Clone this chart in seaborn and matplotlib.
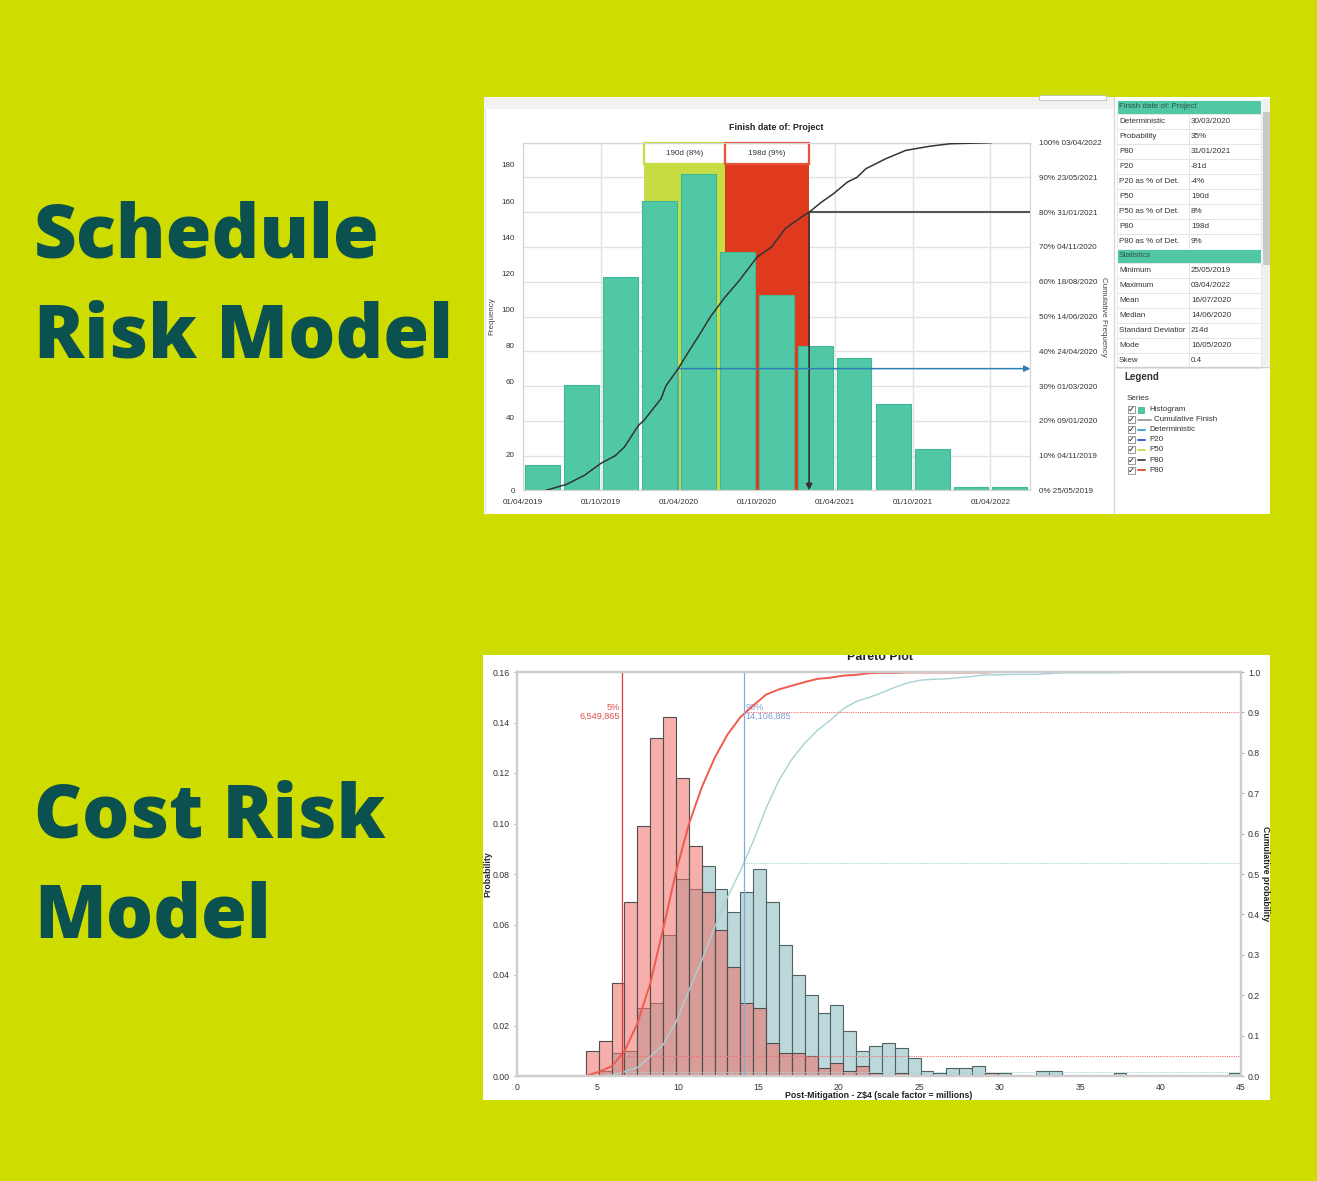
import numpy as np
import pandas as pd
import matplotlib
matplotlib.use("Agg")
import matplotlib.pyplot as plt
import matplotlib.dates as mdates
from matplotlib.patches import Rectangle
from matplotlib import font_manager
import seaborn as sns

sns.set_style("white")

W, H = 1317, 1181
BG = "#CFDC00"
DARK = "#0B5150"
TEAL = "#50C8A6"

installed = {f.name for f in font_manager.fontManager.ttflist}
NARROW = ["Liberation Sans Narrow", "Liberation Sans"] if "Liberation Sans Narrow" in installed else ["Liberation Sans"]
SANS = ["Liberation Sans", "DejaVu Sans"]

# -----------------------------------------------------------------------------
# schedule risk data
quarter_starts = pd.date_range("2019-04-01", periods=14, freq="QS")
freq_counts = [14, 58, 118, 160, 175, 132, 108, 80, 73, 48, 23, 2, 2]

cum_dates = ["2019-05-25", "2019-07-12", "2019-08-23", "2019-09-30", "2019-11-04",
             "2019-11-25", "2019-12-28", "2020-01-09", "2020-02-19", "2020-03-01",
             "2020-03-30", "2020-04-24", "2020-05-18", "2020-06-14", "2020-07-18",
             "2020-08-18", "2020-10-01", "2020-11-04", "2020-12-06", "2021-01-13",
             "2021-01-31", "2021-03-01", "2021-03-29", "2021-05-01", "2021-05-23",
             "2021-06-13", "2021-07-30", "2021-09-15", "2021-11-11", "2021-12-28",
             "2022-04-03"]
cum_prob = [0.0, 0.017, 0.043, 0.077, 0.10, 0.125, 0.187, 0.20, 0.264, 0.30,
            0.35, 0.40, 0.446, 0.50, 0.556, 0.60, 0.671, 0.70, 0.753, 0.786,
            0.80, 0.829, 0.853, 0.887, 0.90, 0.925, 0.954, 0.978, 0.99, 0.997,
            1.0]

right_pct = [0, 10, 20, 30, 40, 50, 60, 70, 80, 90, 100]
right_dates = ["25/05/2019", "04/11/2019", "09/01/2020", "01/03/2020", "24/04/2020",
               "14/06/2020", "18/08/2020", "04/11/2020", "31/01/2021", "23/05/2021",
               "03/04/2022"]
left_ticks = [0, 20, 40, 60, 80, 100, 120, 140, 160, 180]
x_tick_dates = pd.date_range("2019-04-01", "2022-04-01", freq="6MS")

p50_band = ("2020-01-09", "2020-07-18")
p80_band = ("2020-07-18", "2021-01-31")
p50_label = "190d (8%)"
p80_label = "198d (9%)"
det_date, det_prob = "2020-03-30", 0.35
p80_date, p80_prob = "2021-01-31", 0.80

table_rows = [
    ("Finish date of: Project", None),
    ("Deterministic", "30/03/2020"),
    ("Probability", "35%"),
    ("P80", "31/01/2021"),
    ("P20", "-81d"),
    ("P20 as % of Det.", "-4%"),
    ("P50", "190d"),
    ("P50 as % of Det.", "8%"),
    ("P80", "198d"),
    ("P80 as % of Det.", "9%"),
    ("Statistics", None),
    ("Minimum", "25/05/2019"),
    ("Maximum", "03/04/2022"),
    ("Mean", "16/07/2020"),
    ("Median", "14/06/2020"),
    ("Standard Deviatior", "214d"),
    ("Mode", "16/05/2020"),
    ("Skew", "0.4"),
]
legend_items = [
    ("Histogram", TEAL, "box"),
    ("Cumulative Finish", "#9a9a9a", "long"),
    ("Deterministic", "#3A9AD9", "line"),
    ("P20", "#2A55C8", "line"),
    ("P50", "#C8DC40", "line"),
    ("P80", "#444444", "line"),
    ("P80", "#E2462A", "line"),
]

# -----------------------------------------------------------------------------
# cost risk data (probability per bin)
bin_start, bin_width = 4.28, 0.8
pre_mitigation = [0, 0.002, 0.009, 0.010, 0.027, 0.029, 0.056, 0.078, 0.074, 0.083,
                  0.074, 0.065, 0.073, 0.082, 0.069, 0.052, 0.040, 0.032, 0.025, 0.028,
                  0.018, 0.010, 0.012, 0.013, 0.011, 0.007, 0.002, 0.001, 0.003, 0.003,
                  0.004, 0, 0.001, 0, 0, 0.002, 0.002, 0, 0, 0,
                  0, 0.001, 0, 0, 0, 0, 0, 0, 0, 0,
                  0.001]
post_mitigation = [0.010, 0.014, 0.037, 0.069, 0.099, 0.134, 0.142, 0.118, 0.091, 0.073,
                   0.058, 0.043, 0.029, 0.027, 0.013, 0.009, 0.009, 0.008, 0.003, 0.005,
                   0.002, 0.004, 0.001, 0, 0.001, 0, 0, 0, 0, 0,
                   0, 0.001, 0, 0, 0, 0, 0, 0, 0, 0,
                   0, 0, 0, 0, 0, 0, 0, 0, 0, 0,
                   0]
p5_value, p5_text = 6.549865, "5%\n6,549,865"
p90_value, p90_text = 14.106885, "90%\n14,106,885"


def px_rect(x0, y0, x1, y1):
    return [x0 / W, 1 - y1 / H, (x1 - x0) / W, (y1 - y0) / H]


fig = plt.figure(figsize=(W / 100, H / 100), dpi=100)
fig.patch.set_facecolor(BG)

# -----------------------------------------------------------------------------
# background layer: headings, panels, table, legend
bg = fig.add_axes([0, 0, 1, 1])
bg.set_xlim(0, W)
bg.set_ylim(H, 0)
bg.axis("off")

head_kw = dict(fontsize=53.5, fontweight=800, family=["Open Sans", "DejaVu Sans"],
               color=DARK, ha="left", va="baseline")
bg.text(34, 257, "Schedule", **head_kw)
bg.text(34, 358, "Risk Model", **head_kw)
bg.text(34, 837, "Cost Risk", **head_kw)
bg.text(34, 938, "Model", **head_kw)

# top panel
bg.add_patch(Rectangle((484, 97), 786, 417, fc="white", ec="none"))
bg.add_patch(Rectangle((484, 97), 630, 12, fc="#f2f2f2", ec="none"))
bg.add_patch(Rectangle((1039, 95), 67, 5, fc="white", ec="#bdbdbd", lw=0.6))
bg.plot([1114, 1114], [97, 514], color="#d8d8d8", lw=1)
bg.plot([485, 485], [109, 514], color="#e2e2e2", lw=1)

row_h = 14.9
ty0 = 99.5
c0, c1, c2 = 1117, 1189, 1261
for i, (name, val) in enumerate(table_rows):
    y = ty0 + i * row_h
    if val is None:
        bg.add_patch(Rectangle((c0, y), c2 - c0, row_h, fc=TEAL, ec="white", lw=0.6))
        bg.text(c0 + 2, y + row_h / 2, name, fontsize=5.8, family=SANS, color="#2f4f4a",
                va="center", ha="left")
    else:
        bg.add_patch(Rectangle((c0, y), c1 - c0, row_h, fc="white", ec="#e3e3e3", lw=0.6))
        bg.add_patch(Rectangle((c1, y), c2 - c1, row_h, fc="white", ec="#e3e3e3", lw=0.6))
        bg.text(c0 + 2, y + row_h / 2, name, fontsize=5.8, family=SANS, color="#333333",
                va="center", ha="left", clip_on=True)
        bg.text(c1 + 2, y + row_h / 2, val, fontsize=5.8, family=SANS, color="#333333",
                va="center", ha="left")
bg.add_patch(Rectangle((1262, 99), 8, 267, fc="#f0f0f0", ec="none"))
bg.add_patch(Rectangle((1262.5, 112), 7, 153, fc="#c9c9c9", ec="none"))
bg.plot([1116, 1270], [367, 367], color="#cfcfcf", lw=1)
bg.text(1124, 377, "Legend", fontsize=7, fontweight="bold", family=SANS, color="#333333",
        va="center", ha="left")
bg.text(1127, 399, "Series", fontsize=5.8, family=SANS, color="#333333",
        va="center", ha="left")
for i, (name, col, kind) in enumerate(legend_items):
    y = 409.5 + i * 10.1
    bg.add_patch(Rectangle((1128, y - 3.5), 7, 7, fc="white", ec="#888888", lw=0.6))
    bg.text(1131.5, y, "\u2713", fontsize=6, family=["DejaVu Sans"], color="#111111",
            va="center", ha="center")
    if kind == "box":
        bg.add_patch(Rectangle((1138, y - 3), 6, 6, fc=col, ec="#3aa88a", lw=0.5))
        tx = 1149
    elif kind == "long":
        bg.plot([1138, 1151], [y, y], color=col, lw=1.3)
        tx = 1154
    else:
        bg.plot([1138, 1145], [y, y], color=col, lw=1.3)
        tx = 1149
    bg.text(tx, y, name, fontsize=5.8, family=SANS, color="#333333", va="center", ha="left")

# bottom panel, its title is cut by the top edge of the screenshot
panel = Rectangle((483, 655), 787, 445, fc="white", ec="none")
bg.add_patch(panel)
t = bg.text(880, 660, "Pareto Plot", fontsize=9, fontweight="bold", family=NARROW,
            color="#222222", ha="center", va="baseline", clip_on=True)
t.set_clip_path(panel)

# -----------------------------------------------------------------------------
# schedule histogram
ax1 = fig.add_axes(px_rect(523, 142.7, 1030.4, 490.3))
ymax1 = 192.3
q_num = mdates.date2num(quarter_starts)
centers = (q_num[:-1] + q_num[1:]) / 2
widths = (q_num[1:] - q_num[:-1]) * 0.89
x0, x1 = mdates.date2num(pd.Timestamp("2019-04-01")), mdates.date2num(pd.Timestamp("2022-07-04"))

for band, col in [(p50_band, "#C8DC44"), (p80_band, "#E03A1E")]:
    b0, b1 = mdates.date2num(pd.to_datetime(list(band)))
    ax1.axvspan(b0, b1, color=col, zorder=1, lw=0)

ax1.bar(centers, freq_counts, width=widths, color=TEAL, edgecolor="#3fb895",
        linewidth=0.8, zorder=2)

for band, col, lab in [(p50_band, "#C8DC44", p50_label), (p80_band, "#E8553C", p80_label)]:
    b0, b1 = mdates.date2num(pd.to_datetime(list(band)))
    ax1.add_patch(Rectangle((b0, 0.9396), b1 - b0, 0.0604, transform=ax1.get_xaxis_transform(),
                            fc="white", ec=col, lw=1.6, zorder=3, clip_on=False))
    ax1.text((b0 + b1) / 2, 0.97, lab, transform=ax1.get_xaxis_transform(), fontsize=5.8,
             family=SANS, color="#333333", ha="center", va="center", zorder=4)

ax1.set_xlim(x0, x1)
ax1.set_ylim(0, ymax1)
ax1.set_xticks(mdates.date2num(x_tick_dates))
ax1.set_xticklabels([d.strftime("%d/%m/%Y") for d in x_tick_dates])
ax1.set_yticks(left_ticks)
ax1.set_yticks(np.linspace(0, ymax1, 11), minor=True)
ax1.set_axisbelow(True)
ax1.grid(axis="x", which="major", color="#e2e2e2", lw=1)
ax1.grid(axis="y", which="minor", color="#e2e2e2", lw=1)
ax1.grid(axis="y", which="major", visible=False)
ax1.tick_params(axis="both", which="both", length=0, labelsize=5.8, colors="#333333")
ax1.tick_params(axis="y", pad=6)
ax1.tick_params(axis="x", pad=6)
for lbl in ax1.get_xticklabels() + ax1.get_yticklabels():
    lbl.set_family(SANS)
for sp in ax1.spines.values():
    sp.set_color("#d5d5d5")
ax1.set_ylabel("Frequency", fontsize=5.8, family=SANS, color="#444444", labelpad=4)
ax1.set_title("Finish date of: Project", fontsize=6.4, fontweight="bold", family=SANS,
              color="#222222", pad=9)

ax1r = ax1.twinx()
ax1r.set_ylim(0, 1)
cum_num = mdates.date2num(pd.to_datetime(cum_dates))
sns.lineplot(x=cum_num, y=cum_prob, ax=ax1r, color="#333333", lw=1.1, zorder=5)
det_num = mdates.date2num(pd.Timestamp(det_date))
p80_num = mdates.date2num(pd.Timestamp(p80_date))
ax1r.plot([p80_num, x1], [p80_prob, p80_prob], color="#555555", lw=1.5, zorder=4)
ax1r.annotate("", xy=(p80_num, 0.0), xytext=(p80_num, p80_prob),
              arrowprops=dict(arrowstyle="-|>", color="#333333", lw=1.2, mutation_scale=9,
                              shrinkA=0, shrinkB=0))
ax1r.plot([det_num, det_num], [0, det_prob], color="#5aa8c8", lw=0.9, zorder=4)
ax1r.annotate("", xy=(x1, det_prob), xytext=(det_num, det_prob),
              arrowprops=dict(arrowstyle="-|>", color="#2E7FB8", lw=1.1, mutation_scale=9,
                              shrinkA=0, shrinkB=0))
ax1r.set_yticks(np.array(right_pct) / 100)
ax1r.set_yticklabels([f"{p}% {d}" for p, d in zip(right_pct, right_dates)])
ax1r.tick_params(axis="y", length=0, labelsize=5.8, colors="#333333", pad=6)
for lbl in ax1r.get_yticklabels():
    lbl.set_family(SANS)
for sp in ax1r.spines.values():
    sp.set_color("#d5d5d5")
ax1r.set_ylabel("Cumulative Frequency", fontsize=5.8, family=SANS, color="#444444",
                rotation=270, labelpad=4)
ax1r.set_xlim(x0, x1)

# -----------------------------------------------------------------------------
# cost risk histogram
ax2 = fig.add_axes(px_rect(517, 672, 1241, 1076))
edges = bin_start + bin_width * np.arange(len(pre_mitigation) + 1)
mids = edges[:-1] + bin_width / 2
cost_df = pd.DataFrame({"mid": mids, "pre": pre_mitigation, "post": post_mitigation})
sns.histplot(data=cost_df, x="mid", weights="pre", bins=edges.tolist(), color="#BCD8DB",
             alpha=1, edgecolor="#4f6262", linewidth=0.8, ax=ax2)
sns.histplot(data=cost_df, x="mid", weights="post", bins=edges.tolist(), color="#F06E64",
             alpha=0.55, edgecolor="#4f4f4f", linewidth=0.8, ax=ax2)
ax2.set_xlim(0, 45)
ax2.set_ylim(0, 0.16)
ax2.set_xticks(range(0, 46, 5))
ax2.set_yticks(np.arange(0, 0.161, 0.02))
ax2.set_yticklabels([f"{v:.2f}" for v in np.arange(0, 0.161, 0.02)])
ax2.tick_params(axis="both", length=2, width=0.6, color="#999999", labelsize=6.3,
                colors="#333333", pad=3)
for lbl in ax2.get_xticklabels() + ax2.get_yticklabels():
    lbl.set_family(NARROW)
for sp in ax2.spines.values():
    sp.set_color("#cdcdcd")
    sp.set_linewidth(1.6)
ax2.set_xlabel("Post-Mitigation - Z\\$4 (scale factor = millions)", fontsize=6.3,
               fontweight="bold", family=NARROW, color="#222222", labelpad=-1)
ax2.set_ylabel("Probability", fontsize=6.3, fontweight="bold", family=NARROW,
               color="#222222", labelpad=0)

ax2r = ax2.twinx()
ax2r.set_ylim(0, 1)
cum_pre = np.concatenate([[0], np.cumsum(pre_mitigation) / np.sum(pre_mitigation)])
cum_post = np.concatenate([[0], np.cumsum(post_mitigation) / np.sum(post_mitigation)])
sns.lineplot(x=edges, y=cum_pre, ax=ax2r, color="#A6D2D5", lw=1.0)
sns.lineplot(x=edges, y=cum_post, ax=ax2r, color="#F05A4F", lw=1.4)
pre_at_p5 = np.interp(p5_value, edges, cum_pre)
pre_at_p90 = np.interp(p90_value, edges, cum_pre)
ax2r.plot([p5_value, 45], [0.05, 0.05], color="#F07070", lw=0.8, ls=(0, (1, 1)))
ax2r.plot([p90_value, 45], [0.90, 0.90], color="#F07070", lw=0.8, ls=(0, (1, 1)))
ax2r.plot([p5_value, 45], [pre_at_p5, pre_at_p5], color="#A6D2D5", lw=0.8, ls=(0, (1, 1)))
ax2r.plot([p90_value, 45], [pre_at_p90, pre_at_p90], color="#A6D2D5", lw=0.8, ls=(0, (1, 1)))
ax2r.axvline(p5_value, color="#D93A3A", lw=0.9)
ax2r.axvline(p90_value, color="#86A9DB", lw=0.9)
ax2.text(p5_value - 0.15, 0.1477, p5_text, color="#E0504A", fontsize=6.6, family=NARROW,
         ha="right", va="top", linespacing=1.0)
ax2.text(p90_value + 0.1, 0.1477, p90_text, color="#7C9FD6", fontsize=6.6, family=NARROW,
         ha="left", va="top", linespacing=1.0)
ax2r.set_xlim(0, 45)
ax2r.set_yticks(np.arange(0, 1.01, 0.1))
ax2r.set_yticklabels([f"{v:.1f}" for v in np.arange(0, 1.01, 0.1)])
ax2r.tick_params(axis="y", length=2, width=0.6, color="#999999", labelsize=6.3,
                 colors="#333333", pad=3)
for lbl in ax2r.get_yticklabels():
    lbl.set_family(NARROW)
for sp in ax2r.spines.values():
    sp.set_color("#cdcdcd")
    sp.set_linewidth(1.6)
ax2r.set_ylabel("Cumulative probability", fontsize=6.3, fontweight="bold", family=NARROW,
                color="#222222", rotation=270, labelpad=7)

fig.savefig("out.png", dpi=100, facecolor=BG)
